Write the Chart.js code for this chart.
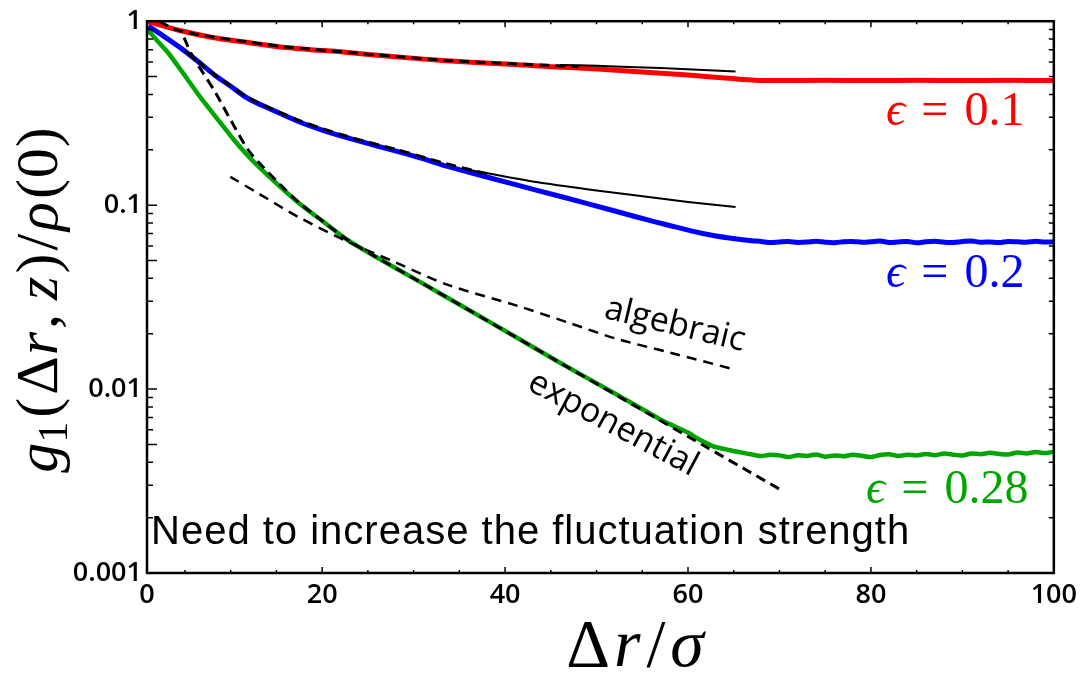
<!DOCTYPE html>
<html lang="en">
<head>
<meta charset="UTF-8">
<title>g1 correlation</title>
<script src="https://cdn.jsdelivr.net/npm/chart.js"></script>
<style>
  body { margin: 0; background: #fff; }
  canvas { display: block; }
</style>
</head>
<body>
<canvas id="myChart" width="1083" height="674"></canvas>
<script>
// ticks
const xTickValues = [20, 40, 60, 80, 100];
const xTickLabels = ['0', '20', '40', '60', '80', '100'];
const yTickValues = [0.001, 0.01, 0.1, 1];
const yTickLabels = ['0.001', '0.01', '0.1', '1'];

// eps = 0.1 (red)
const redX = [1, 2.2, 4.7, 8, 11.9, 16, 22.8, 28, 33.6, 40, 45, 50.1, 55, 60, 65.2, 67.4, 70, 75, 80, 85, 90, 95, 100];
const redY = [0.99, 0.955, 0.884, 0.815, 0.765, 0.72, 0.676, 0.64, 0.61, 0.585, 0.566, 0.55, 0.53, 0.51, 0.486, 0.478, 0.476, 0.477, 0.476, 0.477, 0.476, 0.477, 0.476];

// eps = 0.2 (blue)
const blueX = [1, 2.5, 4.7, 6.5, 8.3, 10, 11.9, 14.5, 17.4, 20, 22.8, 25.5, 28.2, 31, 33.6, 38.5, 43.6, 49, 54.4, 58, 61.6, 64.5, 67,
  68, 69, 70, 71, 72, 73, 74, 75, 76, 77, 78, 79, 80, 81, 82, 83, 84, 85, 86, 87, 88, 89, 90, 91, 92, 93, 94, 95, 96, 97, 98, 99, 100];
const blueY = [0.94, 0.84, 0.705, 0.6, 0.507, 0.443, 0.38, 0.33, 0.285, 0.256, 0.232, 0.213, 0.196, 0.179, 0.163, 0.14, 0.12, 0.102, 0.0862, 0.0775, 0.0701, 0.0662, 0.0640,
  0.0635, 0.0626, 0.0631, 0.0634, 0.0627, 0.0630, 0.0637, 0.0629, 0.0625, 0.0633, 0.0635, 0.0628, 0.0632, 0.0638, 0.0626, 0.0631, 0.0634, 0.0624, 0.0632, 0.0636, 0.0629, 0.0627, 0.0634, 0.0639, 0.0628, 0.0631, 0.0626, 0.0635, 0.0632, 0.0628, 0.0636, 0.0630, 0.0632];

// eps = 0.28 (green)
const greenX = [1, 2.2, 3.1, 4.7, 6.7, 8.3, 10.3, 11.9, 14, 17.5, 20, 22.8, 26, 30.6, 35, 41.4, 46, 52.2, 57.3, 60, 61, 62.7, 64.5, 66.3,
  67, 68, 69, 70, 71, 72, 73, 74, 75, 76, 77, 78, 79, 80, 81, 82, 83, 84, 85, 86, 87, 88, 89, 90, 91, 92, 93, 94, 95, 96, 97, 98, 99, 100];
const greenY = [0.89, 0.76, 0.68, 0.53, 0.385, 0.305, 0.228, 0.185, 0.146, 0.102, 0.0822, 0.0646, 0.0519, 0.0385, 0.0288, 0.0189, 0.0139, 0.00935, 0.0067, 0.0058, 0.0054, 0.0049, 0.00466, 0.00447,
  0.00441, 0.00432, 0.00440, 0.00436, 0.00427, 0.00437, 0.00433, 0.00441, 0.00429, 0.00436, 0.00431, 0.00440, 0.00434, 0.00427, 0.00438, 0.00442, 0.00433, 0.00439, 0.00436, 0.00444, 0.00437, 0.00446, 0.00440, 0.00435, 0.00447, 0.00442, 0.00450, 0.00444, 0.00441, 0.00452, 0.00447, 0.00455, 0.00449, 0.00456];

// fits
const redFitDashX = [2.2, 4, 8, 12, 16, 22.8, 28, 33.6, 40, 48];
const redFitDashY = [1.0, 0.9, 0.822, 0.77, 0.725, 0.678, 0.643, 0.612, 0.59, 0.566];
const redFitX = [46, 50, 57, 65.2];
const redFitY = [0.578, 0.572, 0.556, 0.532];

const blueFitDashX = [5, 8.3, 11.9, 17.4, 22.8, 28.2, 33.6, 38];
const blueFitDashY = [0.69, 0.51, 0.385, 0.29, 0.236, 0.2, 0.168, 0.148];
const blueFitX = [36, 43.6, 50, 54.4, 60, 65.2];
const blueFitY = [0.156, 0.133, 0.12, 0.1127, 0.104, 0.0976];

const expX = [4.9, 5.8, 7, 8.3, 10, 11.9, 13.5, 15.5, 17.5, 20, 22.8, 26, 30.6, 35, 41.4, 46, 52.2, 57.3, 62, 66, 70.1];
const expY = [0.814, 0.649, 0.522, 0.412, 0.29, 0.2, 0.162, 0.128, 0.103, 0.0822, 0.0646, 0.0519, 0.0385, 0.0288, 0.0189, 0.0139, 0.00925, 0.0066, 0.00484, 0.00372, 0.00284];

const algX = [9.96, 13, 17.4, 22.8, 28, 33.6, 41.4, 47, 52.2, 58, 64.9];
const algY = [0.1425, 0.116, 0.0862, 0.0633, 0.0489, 0.0371, 0.0283, 0.0229, 0.01876, 0.0158, 0.01285];

const RED = '#ff0000', BLUE = '#0000ff', GREEN = '#00a600';
const SERIF = "'Liberation Serif', 'DejaVu Serif', serif";

const pts = (xs, ys) => xs.map((v, i) => ({x: v, y: ys[i]}));

// draw text with mixed italic / roman / subscript pieces
function drawRich(ctx, parts, x, y, size, align) {
    const fontOf = p => (p[1] === 'i' ? 'italic ' : '') + (p[1] === 's' ? Math.round(size * 0.7) : size) + 'px ' + SERIF;
    let w = 0;
    parts.forEach(p => { ctx.font = fontOf(p); w += ctx.measureText(p[0]).width + (p[2] || 0); });
    let cx = align === 'center' ? x - w / 2 : x;
    parts.forEach(p => {
        ctx.font = fontOf(p);
        ctx.fillText(p[0], cx, p[1] === 's' ? y + size * 0.16 : y);
        cx += ctx.measureText(p[0]).width + (p[2] || 0);
    });
}

const frameTicks = {
    id: 'frameTicks',
    afterDatasetsDraw(chart) {
        const {ctx, chartArea: a, scales: {x, y}} = chart;
        ctx.save();
        ctx.strokeStyle = '#000';
        ctx.lineWidth = 1.5;
        ctx.beginPath();
        for (let e = -3; e <= 0; e++) {
            for (let m = 1; m <= 9; m++) {
                const v = m * Math.pow(10, e);
                if (v > 1.0001) break;
                const py = y.getPixelForValue(v);
                const len = (m === 1 || m === 5) ? 10 : 6;
                ctx.moveTo(a.left, py); ctx.lineTo(a.left + len, py);
                ctx.moveTo(a.right, py); ctx.lineTo(a.right - 5, py);
            }
        }
        for (let v = 5; v < 100; v += 5) {
            const px = x.getPixelForValue(v);
            const len = v % 20 === 0 ? 6 : 3;
            ctx.moveTo(px, a.bottom); ctx.lineTo(px, a.bottom - len);
            ctx.moveTo(px, a.top); ctx.lineTo(px, a.top + len);
        }
        ctx.stroke();
        ctx.lineWidth = 2.5;
        ctx.strokeRect(a.left, a.top, a.right - a.left, a.bottom - a.top);
        ctx.restore();
    },
    afterDraw(chart) {
        const ctx = chart.ctx;
        ctx.save();
        ctx.fillStyle = '#000';
        ctx.textBaseline = 'alphabetic';

        // y axis title
        ctx.save();
        ctx.translate(57, 300);
        ctx.rotate(-Math.PI / 2);
        drawRich(ctx, [['g', 'i'], ['1', 's', 4], ['(', 'r', 3], ['Δ', 'r', 1], ['r', 'i', 3], [',', 'r', 14], ['z', 'i', 3], [')', 'r', 3], ['/', 'r', 3], ['ρ', 'i', 3], ['(', 'r', 1], ['0', 'r', 1], [')', 'r']], 0, 0, 60, 'center');
        ctx.restore();

        // x axis title
        drawRich(ctx, [['Δ', 'r', 4], ['r', 'i', 6], ['/', 'r', 5], ['σ', 'i']], 635, 666, 68, 'center');

        // series labels
        ctx.fillStyle = RED;
        drawRich(ctx, [['ϵ', 'i', 16], ['=', 'r', 16], ['0.1', 'r']], 886, 125, 48, 'left');
        ctx.fillStyle = BLUE;
        drawRich(ctx, [['ϵ', 'i', 16], ['=', 'r', 16], ['0.2', 'r']], 886, 287, 48, 'left');
        ctx.fillStyle = GREEN;
        drawRich(ctx, [['ϵ', 'i', 16], ['=', 'r', 16], ['0.28', 'r']], 866, 503, 48, 'left');

        // note
        ctx.fillStyle = '#000';
        ctx.font = "40px 'Liberation Sans', Arial, sans-serif";
        ctx.letterSpacing = '1px';
        ctx.textAlign = 'left';
        ctx.fillText('Need to increase the fluctuation strength', 151, 544);
        ctx.letterSpacing = '0px';

        // fit names
        ctx.font = "34px 'Open Sans', sans-serif";
        ctx.textAlign = 'center';
        ctx.textBaseline = 'middle';
        ctx.save();
        ctx.translate(675, 325);
        ctx.rotate(13.5 * Math.PI / 180);
        ctx.fillText('algebraic', 0, 0);
        ctx.restore();
        ctx.save();
        ctx.translate(613, 424);
        ctx.rotate(28 * Math.PI / 180);
        ctx.fillText('exponential', 0, 0);
        ctx.restore();

        ctx.restore();
    }
};

const tickFont = {family: "'Open Sans', sans-serif", size: 27, weight: '600'};

new Chart(document.getElementById('myChart').getContext('2d'), {
    type: 'line',
    data: {
        datasets: [
            {label: 'fit 0.1', data: pts(redFitDashX, redFitDashY), borderColor: '#000', borderWidth: 3, borderDash: [10, 6], order: 0},
            {label: 'fit 0.1 tail', data: pts(redFitX, redFitY), borderColor: '#000', borderWidth: 2, order: 0},
            {label: 'fit 0.2', data: pts(blueFitDashX, blueFitDashY), borderColor: '#000', borderWidth: 3, borderDash: [10, 6], order: 0},
            {label: 'fit 0.2 tail', data: pts(blueFitX, blueFitY), borderColor: '#000', borderWidth: 2, order: 0},
            {label: 'exponential', data: pts(expX, expY), borderColor: '#000', borderWidth: 3, borderDash: [10, 6], order: 0},
            {label: 'algebraic', data: pts(algX, algY), borderColor: '#000', borderWidth: 2.5, borderDash: [10, 7], order: 0},
            {label: 'ε = 0.1', data: pts(redX, redY), borderColor: RED, borderWidth: 5, order: 1},
            {label: 'ε = 0.2', data: pts(blueX, blueY), borderColor: BLUE, borderWidth: 5, order: 1},
            {label: 'ε = 0.28', data: pts(greenX, greenY), borderColor: GREEN, borderWidth: 4.5, order: 1, tension: 0.2}
        ]
    },
    options: {
        responsive: false,
        animation: false,
        layout: {padding: {top: 15, right: 22, left: 0, bottom: 0}},
        plugins: {legend: {display: false}, tooltip: {enabled: false}},
        elements: {point: {radius: 0}, line: {tension: 0.3, borderCapStyle: 'butt'}},
        scales: {
            x: {
                type: 'linear', min: 0.85, max: 100,
                afterFit(s) { s.height = 101; },
                afterBuildTicks(s) { s.ticks = [0.85, ...xTickValues].map(v => ({value: v})); },
                ticks: {callback: (v, i) => xTickLabels[i], padding: 6, maxRotation: 0, autoSkip: false, font: tickFont, color: '#000'},
                grid: {display: false, drawTicks: false},
                border: {display: false}
            },
            y: {
                type: 'logarithmic', min: 0.001, max: 1,
                afterFit(s) { s.width = 147; },
                afterBuildTicks(s) { s.ticks = yTickValues.map(v => ({value: v})); },
                ticks: {callback: (v, i) => yTickLabels[i], padding: 5, autoSkip: false, font: tickFont, color: '#000'},
                grid: {display: false, drawTicks: false},
                border: {display: false}
            }
        }
    },
    plugins: [frameTicks]
});
</script>
</body>
</html>
